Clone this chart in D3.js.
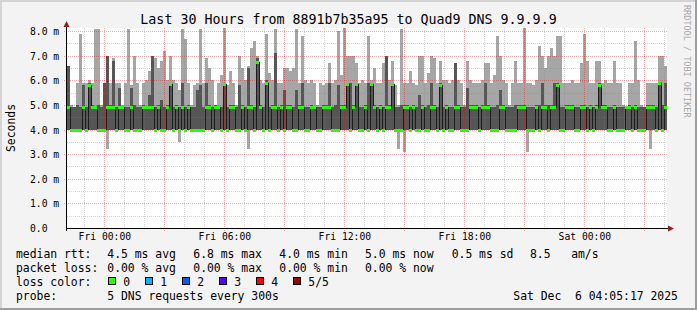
<!DOCTYPE html>
<html>
<head>
<meta charset="utf-8">
<script src="https://cdn.jsdelivr.net/npm/d3@7"></script>
<style>
  html, body { margin: 0; padding: 0; background: #f3f3f3; }
  svg text { font-family: "DejaVu Sans Mono", monospace; white-space: pre; }
</style>
</head>
<body>
<div id="chart"></div>
<script>
"use strict";

const title = "Last 30 Hours from 8891b7b35a95 to Quad9 DNS 9.9.9.9";
const startTime = new Date(2025, 11, 4, 22, 8, 0);
const stepSeconds = 540;

// five sorted pings per step, in ms
const pingMax = [
  6.6,5.0,4.9,5.9,7.9,5.9,5.9,6.0,5.9,8.1, 8.1,5.0,5.9,7.0,5.9,6.9,5.9,5.9,5.0,5.9,
  8.1,5.8,7.0,5.9,5.0,5.9,6.0,6.4,7.0,6.9, 6.5,6.8,7.2,6.0,7.0,6.0,5.9,5.6,8.1,7.7,
  5.9,5.0,5.8,5.9,8.1,5.9,6.9,6.5,6.0,5.0, 5.9,6.2,8.2,5.8,6.4,5.9,5.0,7.0,6.5,6.0,
  6.6,7.3,7.6,7.0,6.0,5.9,7.9,6.3,6.0,8.1, 5.9,5.9,6.5,6.5,6.4,6.5,8.1,5.9,7.8,6.0,
  5.9,6.0,5.9,5.0,5.9,5.8,5.9,6.7,5.9,6.0, 8.0,6.2,8.2,7.0,7.0,7.0,6.7,5.9,6.0,5.9,
  7.8,6.0,6.5,5.9,5.9,6.7,7.0,6.0,6.8,5.8, 5.0,8.1,5.9,5.9,6.4,5.9,5.8,7.0,7.0,5.9,
  6.3,7.0,6.9,5.9,6.8,6.0,6.0,5.9,6.0,6.7, 6.0,5.9,5.0,6.8,6.0,5.9,5.9,5.9,6.0,6.7,
  6.7,5.9,6.2,7.8,7.0,6.0,5.9,5.0,5.9,6.8, 5.9,5.9,8.3,5.9,5.9,5.8,6.0,7.4,7.0,6.5,
  7.0,7.3,7.0,7.8,7.8,5.9,5.9,5.9,6.0,5.9, 5.9,6.7,7.9,6.8,5.9,5.9,6.8,6.8,5.9,6.0,
  5.9,5.9,6.8,5.9,5.9,5.0,4.9,5.9,5.9,7.6, 6.0,5.0,4.9,5.9,5.9,5.9,5.9,7.0,7.0,6.6
];
const pingUpper = [
  6.6,4.9,4.9,5.0,4.9,5.8,4.9,5.9,5.0,4.9, 5.0,4.9,5.9,7.0,5.0,6.8,4.9,5.7,4.9,4.9,
  4.9,5.7,5.0,4.9,4.9,5.0,4.9,5.4,7.0,4.9, 5.0,5.2,4.9,5.0,5.9,4.9,5.0,4.9,5.9,4.9,
  5.0,4.9,4.9,5.6,5.8,4.9,5.9,5.0,4.9,5.0, 4.9,4.9,5.9,4.9,5.0,5.0,4.9,5.8,5.0,4.9,
  6.5,5.0,4.9,6.9,5.0,4.9,6.0,4.9,5.0,7.1, 4.9,5.0,5.6,5.0,5.0,4.9,5.6,5.0,5.9,4.9,
  4.9,5.0,4.9,4.9,4.9,5.0,5.0,5.9,4.9,5.0, 5.8,5.0,5.0,5.9,5.9,5.0,5.9,4.9,4.9,5.0,
  5.9,5.9,5.0,4.9,5.0,4.9,7.0,5.0,5.9,4.9, 4.9,5.0,5.0,5.0,4.9,5.0,4.9,5.4,5.0,4.9,
  5.0,5.9,5.0,4.9,5.9,4.9,5.0,4.9,4.9,6.7, 5.0,4.9,4.9,5.7,5.0,5.0,5.0,4.9,5.0,5.9,
  5.0,4.9,4.9,5.0,5.6,5.0,4.9,4.9,4.9,5.0, 5.0,5.0,5.0,4.9,4.9,4.9,5.0,5.0,5.9,5.0,
  5.0,5.0,5.9,5.9,4.9,4.9,5.0,5.0,5.0,4.9, 4.9,5.0,5.0,4.9,5.0,4.9,5.0,5.9,5.0,5.0,
  4.9,4.9,5.0,4.9,4.9,4.9,4.9,5.0,4.9,5.0, 4.9,4.9,4.9,5.0,5.0,5.0,4.9,5.9,5.0,5.9
];
const pingMedian = [
  4.9,4.0,4.0,4.0,4.0,4.9,4.0,5.8,4.9,4.9, 4.0,4.0,4.0,4.9,4.9,4.9,4.0,4.9,4.9,4.0,
  4.0,4.9,4.0,4.0,4.0,4.9,4.9,4.9,4.9,4.0, 4.9,4.0,4.0,4.9,5.85,4.0,4.9,4.0,4.9,4.0,
  4.9,4.0,4.0,4.0,4.0,4.0,4.9,4.9,4.0,4.9, 4.9,4.0,5.85,4.0,4.9,4.9,4.0,4.0,4.9,4.0,
  4.9,4.9,4.0,6.75,4.9,4.0,5.9,4.0,4.9,4.9, 4.0,4.9,4.0,4.9,4.9,4.0,4.0,4.9,4.9,4.0,
  4.0,4.9,4.9,4.0,4.0,4.9,4.9,4.9,4.0,4.0, 4.0,4.9,4.9,5.85,4.0,4.9,5.85,4.0,4.0,4.9,
  4.0,5.85,4.9,4.0,4.9,4.0,4.9,4.9,5.85,4.0, 4.0,4.0,4.9,4.9,4.0,4.9,4.0,4.0,4.9,4.0,
  4.0,4.9,4.9,4.0,5.8,4.0,4.9,4.0,4.0,4.9, 4.9,4.0,4.0,4.0,4.9,4.9,4.9,4.0,4.9,4.9,
  4.9,4.0,4.0,4.0,4.9,4.9,4.0,4.0,4.0,4.0, 4.9,4.9,4.9,4.0,4.0,4.0,4.9,4.0,4.9,4.9,
  4.0,4.9,4.9,5.8,4.0,4.0,4.9,4.9,4.9,4.0, 4.0,4.9,4.9,4.0,4.9,4.0,4.9,5.8,4.9,4.9,
  4.0,4.0,4.9,4.0,4.0,4.0,4.9,4.9,4.0,4.9, 4.0,4.0,4.0,4.9,4.9,4.9,4.0,5.9,4.0,4.9
];
const pingLower = [
  4,4,4,4,4,4,4,4,4,4, 4,4,4,4,4,4,4,4,4,4, 4,4,4,4,4,4,4,4,4,4, 4,4,4,4,4,4,4,4,4,4,
  4,4,4,4,4,4,4,4,4,4, 4,4,4,4,4,4,4,4,4,4, 4,4,4,4,4,4,4,4,4,4, 4,4,4,4,4,4,4,4,4,4,
  4,4,4,4,4,4,4,4,4,4, 4,4,4,4,4,4,4,4,4,4, 4,4,4,4,4,4,4,4,4,4, 4,4,4,4,4,4,4,4,4,4,
  4,4,4,4,4,4,4,4,4,4, 4,4,4,4,4,4,4,4,4,4, 4,4,4,4,4,4,4,4,4,4, 4,4,4,4,4,4,4,4,4,4,
  4,4,4,4,4,4,4,4,4,4, 4,4,4,4,4,4,4,4,4,4, 4,4,4,4,4,4,4,4,4,4, 4,4,4,4,4,4,4,4,4,4
];
const pingMin = [
  4,4,4,4,4,4,4,4,4,4, 4,4,4,3.2,4,4,4,4,4,4, 4,4,4,4,4,4,4,4,4,4, 4,4,4,4,4,4,4,3.5,4,4,
  4,4,4,4,4,4,4,4,4,4, 4,4,4,4,4,4,4,4,4,4, 3.2,4,4,4,4,4,4,4,4,4, 4,4,4,4,4,4,4,4,4,4,
  4,4,4,4,4,4,4,4,4,4, 4,4,4,4,4,4,4,4,4,4, 4,4,4,4,4,4,4,4,4,4, 3.2,4,3.1,4,4,4,4,4,4,4,
  4,4,4,4,4,4,4,4,4,4, 4,4,4,4,4,4,4,4,4,4, 4,4,4,4,4,4,4,4,4,4, 4,4,4,3.1,4,4,4,4,4,4,
  4,4,4,4,4,4,4,4,4,4, 4,4,4,4,4,4,4,4,4,4, 4,4,4,4,4,4,4,4,4,4, 4,4,4,4,3.2,4,4,4,4,4
];

const yMajor = [1, 2, 3, 4, 5, 6, 7, 8];
const yMinor = [0.5, 1.5, 2.5, 3.5, 4.5, 5.5, 6.5, 7.5];
const yTickValues = [0, 1, 2, 3, 4, 5, 6, 7, 8];
const yTickLabels = ["0.0", "1.0 m", "2.0 m", "3.0 m", "4.0 m", "5.0 m", "6.0 m", "7.0 m", "8.0 m"];
const xTickTimes = [new Date(2025, 11, 5, 0), new Date(2025, 11, 5, 6), new Date(2025, 11, 5, 12),
                    new Date(2025, 11, 5, 18), new Date(2025, 11, 6, 0)];
const xTickLabels = ["Fri 00:00", "Fri 06:00", "Fri 12:00", "Fri 18:00", "Sat 00:00"];

const lossColors = ["#26ff00", "#00b8ff", "#0059ff", "#5e00ff", "#ff0000", "#a10000"];
const lossLabels = ["0", "1", "2", "3", "4", "5/5"];
const rttStats = ["4.5 ms avg", "6.8 ms max", "4.0 ms min", "5.0 ms now", "0.5 ms sd", "8.5   am/s"];
const lossStats = ["0.00 % avg", "0.00 % max", "0.00 % min", "0.00 % now"];
const probeText = "5 DNS requests every 300s";
const stampText = "Sat Dec  6 04:05:17 2025";

const cont = {
    width: 697,
    height: 310,
    left: 67,
    right: 667,
    top: 28,
    bottom: 228,
}
const minorGrid = "rgba(128,128,128,0.35)";
const majorGrid = "rgba(230,0,0,0.32)";

window.onload = function () {
    let svg = d3.select("#chart").append("svg")
        .attr("width", cont.width)
        .attr("height", cont.height);

    // frame
    svg.append("rect").attr("width", cont.width).attr("height", cont.height).attr("fill", "#f3f3f3");
    svg.append("rect").attr("x", 0).attr("y", 0).attr("width", cont.width).attr("height", 2).attr("fill", "#d4d4d4");
    svg.append("rect").attr("x", 0).attr("y", 0).attr("width", 2).attr("height", cont.height).attr("fill", "#d4d4d4");
    svg.append("rect").attr("x", 0).attr("y", cont.height - 2).attr("width", cont.width).attr("height", 2).attr("fill", "#9e9e9e");
    svg.append("rect").attr("x", cont.width - 2).attr("y", 0).attr("width", 2).attr("height", cont.height).attr("fill", "#9e9e9e");

    svg.append("rect")
        .attr("x", cont.left).attr("y", cont.top)
        .attr("width", cont.right - cont.left).attr("height", cont.bottom - cont.top)
        .attr("fill", "#ffffff");

    let endTime = new Date(startTime.getTime() + pingMedian.length * stepSeconds * 1000);
    let x = d3.scaleTime().domain([startTime, endTime]).range([cont.left, cont.right]);
    let y = d3.scaleLinear().domain([0, 8.13]).range([cont.bottom, cont.top]);

    let rows = pingMedian.map((m, i) => ({
        t0: new Date(startTime.getTime() + i * stepSeconds * 1000),
        t1: new Date(startTime.getTime() + (i + 1) * stepSeconds * 1000),
        min: pingMin[i], lo: pingLower[i], med: m, hi: pingUpper[i], max: pingMax[i]
    }));

    svg.append("clipPath").attr("id", "plotClip")
        .append("rect")
        .attr("x", cont.left).attr("y", cont.top)
        .attr("width", cont.right - cont.left).attr("height", cont.bottom - cont.top);

    let plot = svg.append("g").attr("clip-path", "url(#plotClip)");

    // outer smoke
    plot.selectAll(".smokeOuter")
        .data(rows)
        .enter()
        .append("rect")
        .attr("x", (d) => x(d.t0))
        .attr("width", (d) => x(d.t1) - x(d.t0))
        .attr("y", (d) => y(d.max))
        .attr("height", (d) => y(d.min) - y(d.max))
        .attr("fill", "#a6a6a6")
        .attr("shape-rendering", "crispEdges");

    // inner smoke
    plot.selectAll(".smokeInner")
        .data(rows)
        .enter()
        .append("rect")
        .attr("x", (d) => x(d.t0))
        .attr("width", (d) => x(d.t1) - x(d.t0))
        .attr("y", (d) => y(d.hi))
        .attr("height", (d) => y(d.lo) - y(d.hi))
        .attr("fill", "#565656")
        .attr("shape-rendering", "crispEdges");

    // grid over the smoke, rrdtool style
    let grid = svg.append("g").attr("shape-rendering", "crispEdges");
    yMinor.forEach((v) => {
        let py = Math.round(y(v)) + 0.5;
        grid.append("line").attr("x1", cont.left).attr("x2", cont.right).attr("y1", py).attr("y2", py)
            .attr("stroke", minorGrid).attr("stroke-dasharray", "1,1");
    });
    yMajor.forEach((v) => {
        let py = Math.round(y(v)) + 0.5;
        grid.append("line").attr("x1", cont.left - 3).attr("x2", cont.right).attr("y1", py).attr("y2", py)
            .attr("stroke", majorGrid).attr("stroke-dasharray", "1,1");
    });
    let hours = x.ticks(d3.timeHour.every(1));
    hours.forEach((t) => {
        let px = Math.round(x(t)) + 0.5;
        let major = t.getHours() % 3 === 0;
        grid.append("line").attr("x1", px).attr("x2", px)
            .attr("y1", cont.top).attr("y2", major ? cont.bottom + 3 : cont.bottom)
            .attr("stroke", major ? majorGrid : minorGrid)
            .attr("stroke-dasharray", "1,1");
    });

    let marks = svg.append("g").attr("clip-path", "url(#plotClip)");

    // median line
    let medPts = rows.map((d) => [x(d.t0) + 0.5, y(d.med)]);
    medPts.push([x(endTime) + 0.5, y(rows[rows.length - 1].med)]);
    marks.append("path")
        .attr("d", d3.line().curve(d3.curveStepAfter)(medPts))
        .attr("fill", "none")
        .attr("stroke", "#1c1c1c")
        .attr("stroke-width", 1);

    // median marks coloured by loss
    marks.selectAll(".median")
        .data(rows)
        .enter()
        .append("rect")
        .attr("x", (d) => x(d.t0))
        .attr("width", (d) => x(d.t1) - x(d.t0))
        .attr("y", (d) => Math.round(y(d.med)) - 1)
        .attr("height", 3)
        .attr("fill", lossColors[0])
        .attr("shape-rendering", "crispEdges");

    // axes
    svg.append("line").attr("x1", cont.left - 1).attr("x2", cont.right + 2)
        .attr("y1", cont.bottom + 0.5).attr("y2", cont.bottom + 0.5)
        .attr("stroke", "#000").attr("shape-rendering", "crispEdges");
    svg.append("line").attr("x1", cont.left - 0.5).attr("x2", cont.left - 0.5)
        .attr("y1", cont.top - 2).attr("y2", cont.bottom + 3)
        .attr("stroke", "#000").attr("shape-rendering", "crispEdges");
    svg.append("path")
        .attr("d", "M" + (cont.left - 0.5) + "," + (cont.top - 7) + " L" + (cont.left - 3.5) + "," + (cont.top - 1)
            + " L" + (cont.left + 2.5) + "," + (cont.top - 1) + " Z")
        .attr("fill", "#9b1b1b");
    svg.append("path")
        .attr("d", "M" + (cont.right + 7) + "," + (cont.bottom + 0.5) + " L" + (cont.right + 1) + "," + (cont.bottom - 2.5)
            + " L" + (cont.right + 1) + "," + (cont.bottom + 3.5) + " Z")
        .attr("fill", "#9b1b1b");

    // tick labels
    yTickValues.forEach((v, i) => {
        svg.append("text")
            .attr("x", 30)
            .attr("y", Math.round(y(v)) + 4)
            .attr("font-size", "9.7px")
            .attr("fill", "#000")
            .text(yTickLabels[i]);
    });
    xTickTimes.forEach((t, i) => {
        svg.append("text")
            .attr("x", x(t) + 0.5)
            .attr("y", 240)
            .attr("text-anchor", "middle")
            .attr("font-size", "9.7px")
            .text(xTickLabels[i]);
    });

    makeLabels(svg);
}

function makeLabels(svg) {
    svg.append("text")
        .attr("x", 348.5)
        .attr("y", 24)
        .attr("text-anchor", "middle")
        .attr("font-size", "13.3px")
        .text(title);

    svg.append("text")
        .attr("transform", "translate(15,128) rotate(-90)")
        .attr("text-anchor", "middle")
        .attr("font-size", "11.4px")
        .text("Seconds");

    svg.append("text")
        .attr("transform", "translate(684,5) rotate(90)")
        .attr("font-size", "8.5px")
        .attr("fill", "#a8a8a8")
        .text("RRDTOOL / TOBI OETIKER");

    let fs = "11.4px";
    let rowY = [258, 272, 285.5, 299.5];
    let colX = [107.3, 193.3, 279.3, 365, 451.7, 530];

    svg.append("text").attr("x", 16).attr("y", rowY[0]).attr("font-size", fs).text("median rtt:");
    rttStats.forEach((s, i) => {
        svg.append("text").attr("x", colX[i]).attr("y", rowY[0]).attr("font-size", fs).text(s);
    });

    svg.append("text").attr("x", 16).attr("y", rowY[1]).attr("font-size", fs).text("packet loss:");
    lossStats.forEach((s, i) => {
        svg.append("text").attr("x", colX[i]).attr("y", rowY[1]).attr("font-size", fs).text(s);
    });

    svg.append("text").attr("x", 16).attr("y", rowY[2]).attr("font-size", fs).text("loss color:");
    let boxX = [108, 145, 182, 219, 256, 293];
    lossColors.forEach((c, i) => {
        svg.append("rect")
            .attr("x", boxX[i] + 0.5).attr("y", 277.5)
            .attr("width", 7).attr("height", 7)
            .attr("fill", c).attr("stroke", "#000").attr("stroke-width", 1)
            .attr("shape-rendering", "crispEdges");
        svg.append("text").attr("x", boxX[i] + 15.3).attr("y", rowY[2]).attr("font-size", fs).text(lossLabels[i]);
    });

    svg.append("text").attr("x", 16).attr("y", rowY[3]).attr("font-size", fs).text("probe:");
    svg.append("text").attr("x", 107.3).attr("y", rowY[3]).attr("font-size", fs).text(probeText);
    svg.append("text").attr("x", 513.3).attr("y", rowY[3]).attr("font-size", fs).text(stampText);
}
</script>
</body>
</html>
